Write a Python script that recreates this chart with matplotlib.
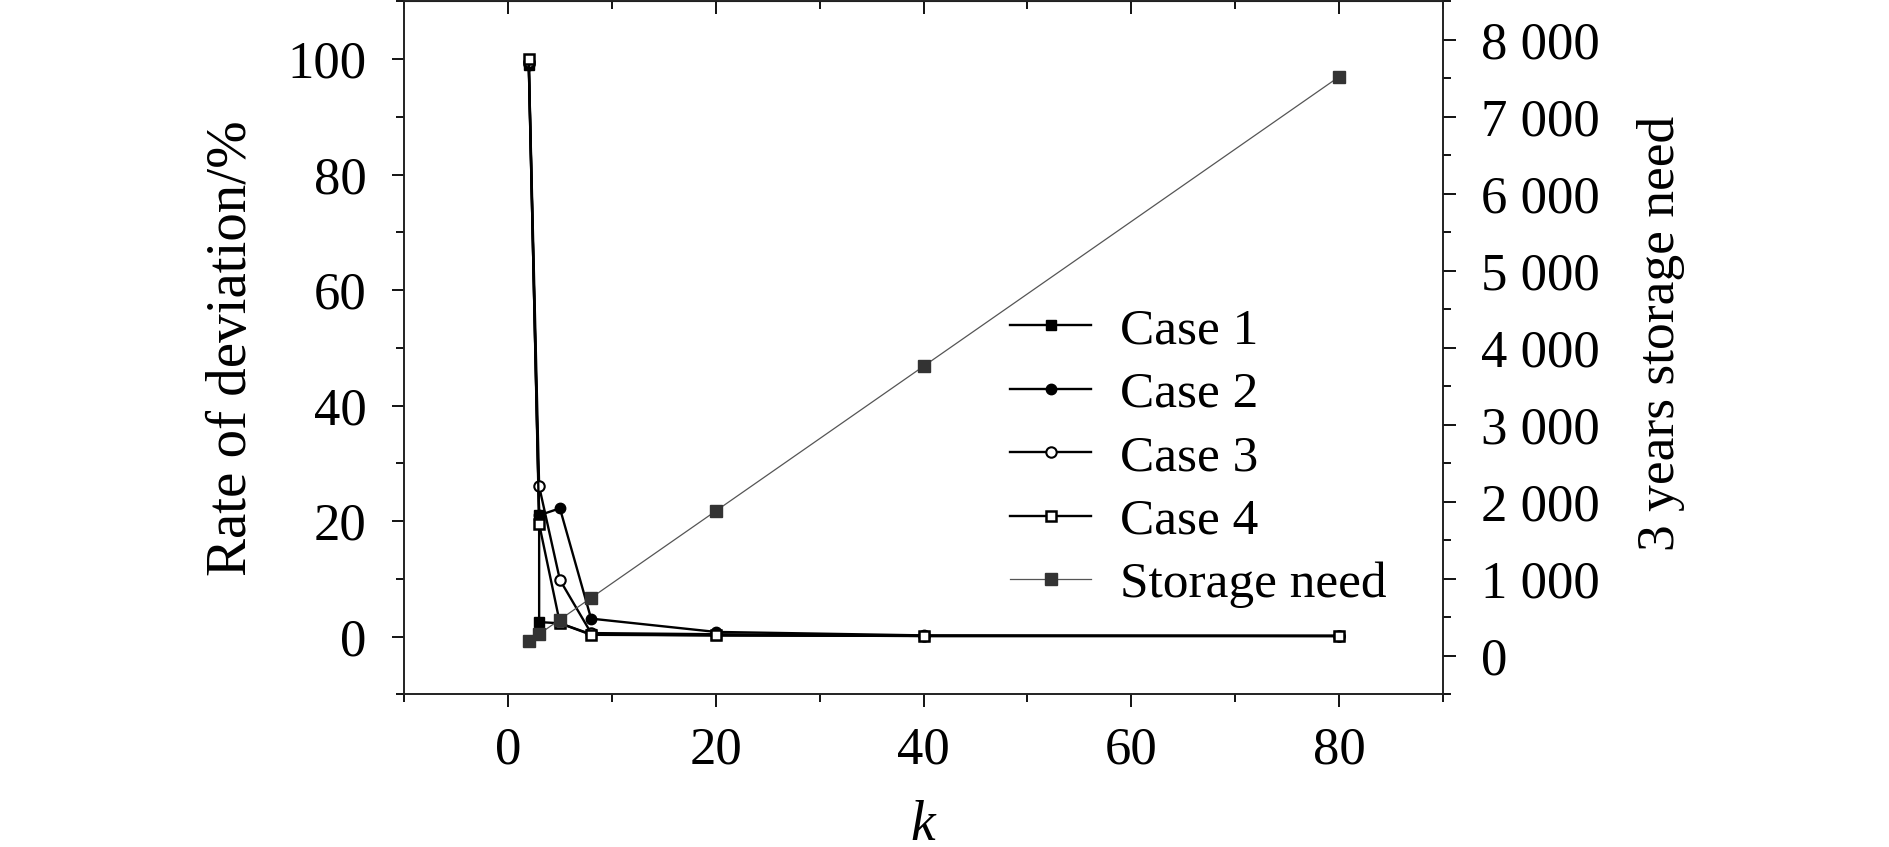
import matplotlib
matplotlib.use("Agg")
import matplotlib.pyplot as plt
from matplotlib.ticker import MultipleLocator, FuncFormatter

plt.rcParams['font.family'] = ['Liberation Serif', 'DejaVu Serif']
plt.rcParams['mathtext.fontset'] = 'custom'
plt.rcParams['mathtext.it'] = 'Liberation Serif:italic'

# ---- data ----
k_case1 = [2, 3, 3, 5, 8, 20, 40, 80]
case1 = [99.0, 21.0, 2.5, 2.3, 0.4, 0.2, 0.1, 0.1]

k_cases = [2, 3, 5, 8, 20, 40, 80]
case2 = [99.0, 21.0, 22.2, 3.1, 0.8, 0.2, 0.1]
case3 = [99.5, 26.0, 9.8, 0.6, 0.4, 0.1, 0.1]
case4 = [100.0, 19.5, 2.3, 0.3, 0.2, 0.1, 0.1]

k_storage = [2, 3, 5, 8, 20, 40, 80]
storage = [188, 282, 470, 752, 1880, 3760, 7520]

labels = ["Case 1", "Case 2", "Case 3", "Case 4", "Storage need"]
x_ticks = [0, 20, 40, 60, 80]
left_ticks = [0, 20, 40, 60, 80, 100]
right_ticks = [0, 1000, 2000, 3000, 4000, 5000, 6000, 7000, 8000]

FS = 38

fig = plt.figure(figsize=(18.9, 8.47), dpi=100)
ax = fig.add_axes([0.2138, 0.1803, 0.5497, 0.8182])
ax2 = ax.twinx()

lw = 1.7
ms = 7.5
h1, = ax.plot(k_case1, case1, '-', color='black', lw=lw, marker='s', ms=ms,
              mfc='black', mec='black', label=labels[0])
h2, = ax.plot(k_cases, case2, '-', color='black', lw=lw, marker='o', ms=ms,
              mfc='black', mec='black', label=labels[1])
h3, = ax.plot(k_cases, case3, '-', color='black', lw=lw, marker='o', ms=ms,
              mfc='white', mec='black', mew=1.5, label=labels[2])
h4, = ax.plot(k_cases, case4, '-', color='black', lw=lw, marker='s', ms=ms,
              mfc='white', mec='black', mew=1.8, label=labels[3])
h5, = ax2.plot(k_storage, storage, '-', color='#555555', lw=0.9, marker='s',
               ms=8, mfc='#333333', mec='#333333', label=labels[4])

ax.set_xlim(-10, 90)
ax.set_ylim(-10, 110)
ax2.set_ylim(-500, 8500)

ax.set_xticks(x_ticks)
ax.xaxis.set_minor_locator(MultipleLocator(10))
ax.set_yticks(left_ticks)
ax.yaxis.set_minor_locator(MultipleLocator(10))
ax2.set_yticks(right_ticks)
ax2.yaxis.set_minor_locator(MultipleLocator(500))
ax2.yaxis.set_major_formatter(FuncFormatter(lambda v, p: f"{int(v):,}".replace(",", " ")))

for a in (ax, ax2):
    for s in a.spines.values():
        s.set_linewidth(1.2)
        s.set_color('#222222')

ax.tick_params(axis='x', which='both', direction='out', top=False, labelsize=FS, pad=14)
ax.tick_params(axis='x', which='major', length=9.5, width=1.3)
ax.tick_params(axis='x', which='minor', length=6, width=1.3)
ax.tick_params(axis='y', which='both', direction='out', labelsize=FS, pad=18)
ax.tick_params(axis='y', which='major', length=9, width=1.3)
ax.tick_params(axis='y', which='minor', length=6, width=1.3)
ax2.tick_params(axis='y', which='both', direction='out', labelsize=FS, pad=18)
ax2.tick_params(axis='y', which='major', length=9.5, width=1.3)
ax2.tick_params(axis='y', which='minor', length=6, width=1.3)

# top inward ticks
sec = ax.secondary_xaxis('top')
sec.set_xticks(x_ticks)
sec.xaxis.set_minor_locator(MultipleLocator(10))
sec.tick_params(axis='x', which='both', direction='in', labeltop=False)
sec.tick_params(axis='x', which='major', length=9.5, width=1.3)
sec.tick_params(axis='x', which='minor', length=6, width=1.3)

ax.set_xlabel(r'$k$', fontsize=FS + 2)
ax.xaxis.set_label_coords(0.5, -0.152)
ax.set_ylabel('Rate of deviation/%', fontsize=41)
ax.yaxis.set_label_coords(-0.141, 0.5)
ax2.set_ylabel('3 years storage need', fontsize=38.5)
ax2.yaxis.set_label_coords(1.187, 0.521)

leg = ax2.legend(handles=[h1, h2, h3, h4, h5], loc='upper left',
                 bbox_to_anchor=(0.5635, 0.588), frameon=False, fontsize=FS - 1,
                 handlelength=1.58, handletextpad=0.55, labelspacing=0.32,
                 borderaxespad=0)

fig.savefig('out.png', dpi=100)
